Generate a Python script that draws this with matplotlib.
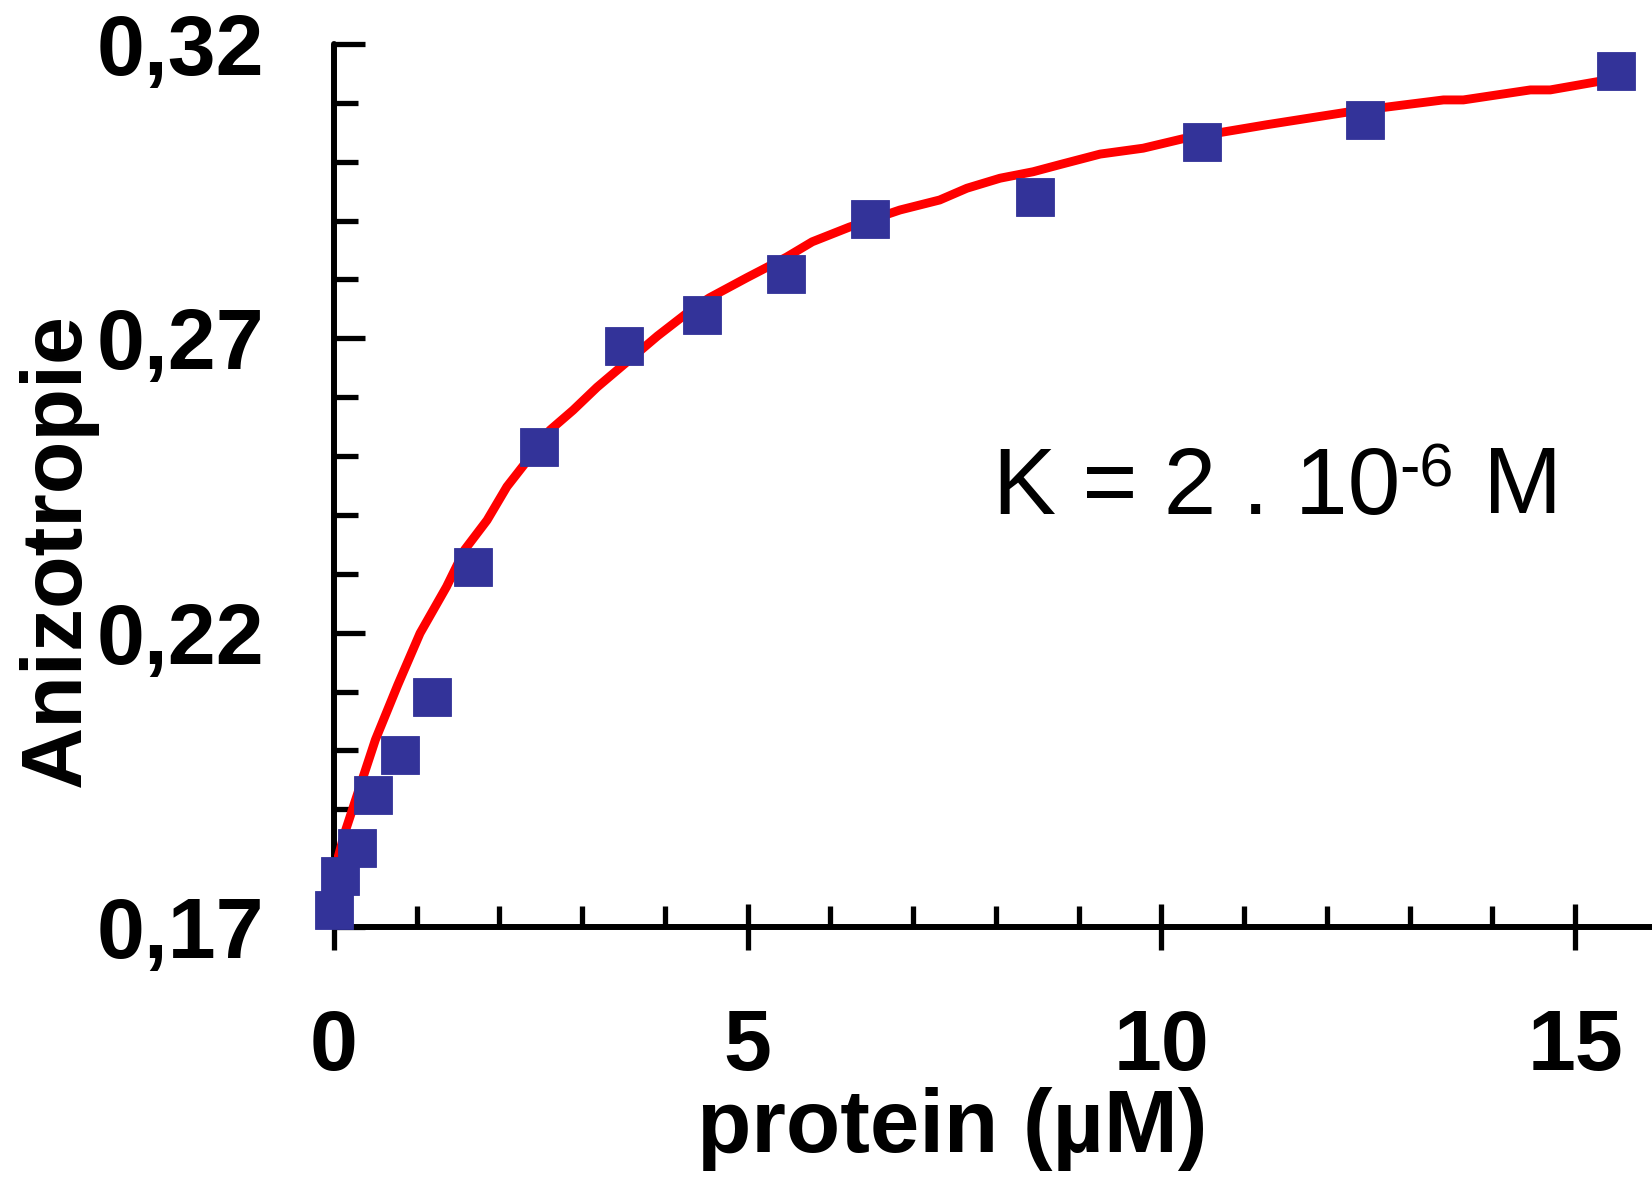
"""Anisotropy binding curve: protein titration with fitted curve (K = 2e-6 M)."""

import matplotlib
matplotlib.use("Agg")
import matplotlib.pyplot as plt

plt.rcParams["font.family"] = ["Liberation Sans", "DejaVu Sans"]

# measured points (protein in uM, anisotropy)
protein_um = [0.0, 0.07, 0.28, 0.47, 0.80, 1.19, 1.68, 2.48, 3.51, 4.45,
              5.46, 6.48, 8.47, 10.49, 12.46, 15.49]
anisotropy = [0.1729, 0.1787, 0.1834, 0.1924, 0.1992, 0.2091, 0.2312, 0.2515,
              0.2687, 0.2740, 0.2809, 0.2903, 0.2940, 0.3034, 0.3071, 0.3154]

# fitted curve
fit_x = [0.0, 0.13, 0.50, 0.77, 1.04, 1.36, 1.58, 1.85, 2.09, 2.34, 2.61,
         2.89, 3.18, 3.60, 3.91, 4.36, 4.54, 4.99, 5.47, 5.78, 6.23, 6.84,
         7.32, 7.65, 8.05, 8.45, 8.77, 9.26, 9.78, 10.26, 11.28, 12.28,
         13.41, 13.65, 14.46, 14.70, 15.27, 15.45]
fit_y = [0.1793, 0.1860, 0.2018, 0.2111, 0.2199, 0.2278, 0.2341, 0.2391,
         0.2448, 0.2493, 0.2544, 0.2578, 0.2617, 0.2667, 0.2704, 0.2753,
         0.2769, 0.2803, 0.2838, 0.2864, 0.2889, 0.2918, 0.2935, 0.2955,
         0.2972, 0.2983, 0.2995, 0.3013, 0.3023, 0.3039, 0.3063, 0.3085,
         0.3105, 0.3105, 0.3122, 0.3122, 0.3136, 0.3143]

x_major = [0, 5, 10, 15]
x_major_labels = ["0", "5", "10", "15"]
x_minor = [1, 2, 3, 4, 6, 7, 8, 9, 11, 12, 13, 14]
y_major = [0.17, 0.22, 0.27, 0.32]
y_major_labels = ["0,17", "0,22", "0,27", "0,32"]
y_minor = [0.18, 0.19, 0.20, 0.21, 0.23, 0.24, 0.25, 0.26,
           0.28, 0.29, 0.30, 0.31]

W, H = 1652, 1178
fig = plt.figure(figsize=(W / 100, H / 100), dpi=100)
ax = fig.add_axes([334 / W, 1 - 927 / H, 1 - 334 / W, (927 - 44) / H])

ax.plot(fit_x, fit_y, color="#ff0000", lw=6.4, zorder=3, solid_joinstyle="round")
ax.plot(protein_um, anisotropy, ls="none", marker="s", ms=28,
        mfc="#333399", mec="#333399", mew=0.6, zorder=4, clip_on=False)

ax.set_xlim(0, 15.93)
ax.set_ylim(0.17, 0.32)

for side in ("top", "right"):
    ax.spines[side].set_visible(False)
for side in ("left", "bottom"):
    ax.spines[side].set_linewidth(4.3)
    ax.spines[side].set_capstyle("round")

ax.set_xticks(x_major)
ax.set_xticklabels(x_major_labels)
ax.set_xticks(x_minor, minor=True)
ax.set_yticks(y_major)
ax.set_yticklabels(y_major_labels)
ax.set_yticks(y_minor, minor=True)

ax.tick_params(axis="x", which="major", direction="inout", length=33, width=3.8,
               pad=42, labelsize=62)
ax.tick_params(axis="x", which="minor", direction="in", length=15, width=3.8)
ax.tick_params(axis="y", which="major", direction="in", length=22, width=3.8,
               pad=50, labelsize=62)
ax.tick_params(axis="y", which="minor", direction="in", length=17, width=3.8)
for lab in ax.get_xticklabels() + ax.get_yticklabels():
    lab.set_fontweight("bold")

fig.text(58 / W, 1 - 550 / H, "Anizotropie", rotation=90, ha="center",
         va="center", fontsize=62, fontweight="bold")
fig.text(952 / W, 1 - 1152 / H, "protein (\u00b5M)", ha="center",
         va="baseline", fontsize=64, fontweight="bold")

# K = 2 . 10^-6 M, built from pieces so the superscript keeps the same font
k1 = ax.text(7.97, 0.2402, "K = 2 . 10", fontsize=68, ha="left", va="baseline")
k2 = ax.annotate("-6", xy=(1, 0), xycoords=k1, xytext=(-1, 34),
                 textcoords="offset points", fontsize=44, ha="left",
                 va="baseline")
ax.annotate(" M", xy=(1, 0), xycoords=k2, xytext=(2, -10),
            textcoords="offset points", fontsize=68, ha="left", va="baseline")

fig.savefig("out.png", dpi=100)
